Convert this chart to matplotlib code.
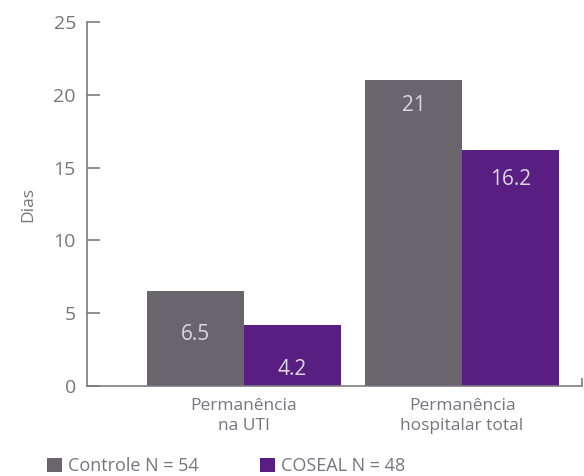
import numpy as np
import matplotlib.pyplot as plt
from matplotlib.ticker import FixedLocator

# Data
categories = ["Permanência\nna UTI", "Permanência\nhospitalar total"]
series_names = ["Controle N = 54", "COSEAL N = 48"]
controle = [6.5, 21]
coseal = [4.2, 16.2]
value_labels_controle = ["6.5", "21"]
value_labels_coseal = ["4.2", "16.2"]
yticks = [0, 5, 10, 15, 20, 25]

GRAY = "#6a656d"
PURPLE = "#581e82"
TEXT = "#78747f"
AXIS = "#7d7a84"
LABEL_IN = "#dcd8e0"

plt.rcParams["font.family"] = ["Open Sans", "DejaVu Sans"]

fig = plt.figure(figsize=(5.84, 4.76), dpi=100)
ax = fig.add_axes([87 / 584, 1 - 386 / 476, (582 - 87) / 584, (386 - 22) / 476])

x = np.arange(len(categories))
w = 0.445
b1 = ax.bar(x - w / 2, controle, w, color=GRAY, label=series_names[0])
b2 = ax.bar(x + w / 2, coseal, w, color=PURPLE, label=series_names[1])

# value labels inside the bars
offsets_c = [-31, -18]
offsets_s = [-32, -21]
for rect, txt, off in zip(b1, value_labels_controle, offsets_c):
    ax.annotate(txt, (rect.get_x() + rect.get_width() / 2, rect.get_height()),
                xytext=(0, off), textcoords="offset points",
                ha="center", va="center", color=LABEL_IN, fontsize=15)
for rect, txt, off in zip(b2, value_labels_coseal, offsets_s):
    ax.annotate(txt, (rect.get_x() + rect.get_width() / 2, rect.get_height()),
                xytext=(0, off), textcoords="offset points",
                ha="center", va="center", color=LABEL_IN, fontsize=15)

ax.set_xlim(-0.72, 1.55)
ax.set_ylim(0, 25)
ax.set_yticks(yticks)
ax.tick_params(axis="y", direction="in", length=9.5, width=1.2, color=AXIS,
               labelcolor=TEXT, labelsize=14, pad=8)

# x axis: category labels without ticks, plus the little end tick
ax.set_xticks(x)
ax.set_xticklabels(categories, color=TEXT, fontsize=12.5, linespacing=1.3)
ax.tick_params(axis="x", length=0, pad=9)
ax.xaxis.set_minor_locator(FixedLocator([1.55]))
ax.tick_params(axis="x", which="minor", direction="in", length=6, width=1.2, color=AXIS)

for s in ["top", "right"]:
    ax.spines[s].set_visible(False)
for s in ["left", "bottom"]:
    ax.spines[s].set_color(AXIS)
    ax.spines[s].set_linewidth(1.2)

ax.set_ylabel("Dias", color=TEXT, fontsize=12.5, labelpad=12)

fig.legend(handles=[b1, b2], loc="center left", bbox_to_anchor=(47 / 584, 1 - 466 / 476),
           ncol=2, frameon=False, fontsize=13, labelcolor=TEXT,
           handlelength=0.85, handleheight=0.8, handletextpad=0.3,
           columnspacing=3.4, borderpad=0, borderaxespad=0)

fig.savefig("out.png", dpi=100)
